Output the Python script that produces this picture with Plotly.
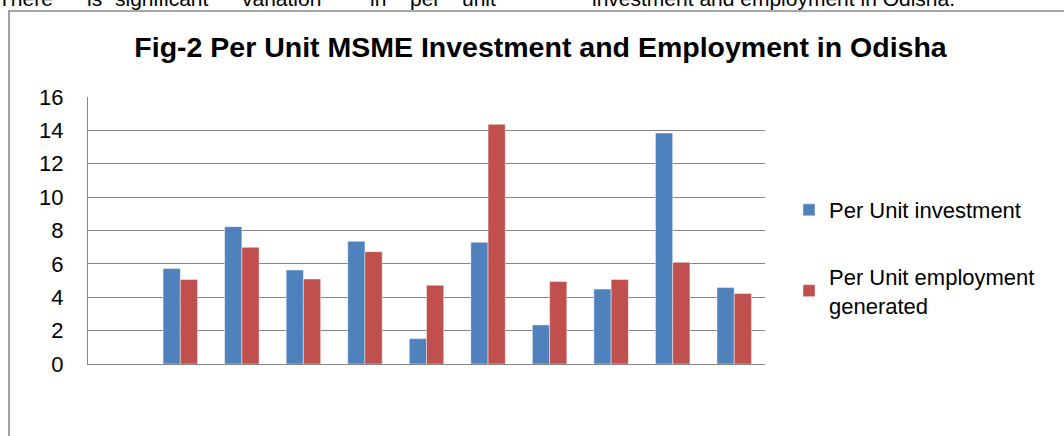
import plotly.graph_objects as go

# ---- data ----
categories = ["1", "2", "3", "4", "5", "6", "7", "8", "9", "10", "11"]
per_unit_investment = [None, 5.73, 8.23, 5.63, 7.35, 1.52, 7.29, 2.34, 4.49, 13.84, 4.58]
per_unit_employment = [None, 5.07, 6.99, 5.09, 6.73, 4.72, 14.36, 4.94, 5.07, 6.09, 4.22]
series_names = ["Per Unit investment", "Per Unit employment<br>generated"]
y_ticks = [0, 2, 4, 6, 8, 10, 12, 14, 16]
title_text = "Fig-2 Per Unit MSME Investment and Employment in Odisha"
body_words_left = ["There", "is", "significant", "variation", "in", "per", "unit"]
body_text_right = "investment and employment in Odisha."

FONT = "Liberation Sans, Arial, sans-serif"
W, H = 1064, 436
ML, MR, MT, MB = 88, 299, 97, 72
PW = W - ML - MR
PH = H - MT - MB


def px_x(x):
    return (x - ML) / PW


def px_y(y):
    return (H - MB - y) / PH


fig = go.Figure()
fig.add_trace(go.Bar(
    x=categories, y=per_unit_investment, name=series_names[0],
    marker=dict(color="#4F81BD", line=dict(color="rgba(255,255,255,0.55)", width=0.8)),
    legendgroup="a",
))
fig.add_trace(go.Bar(
    x=categories, y=per_unit_employment, name=series_names[1],
    marker=dict(color="#C0504D", line=dict(color="rgba(255,255,255,0.55)", width=0.8)),
    legendgroup="b",
))

# body text from the surrounding document (clipped at the top edge, as in the reference)
word_x = [-4, 85, 113, 240, 368, 408, 460]
annotations = []
for wx, wtxt in zip(word_x, body_words_left):
    annotations.append(dict(
        text=wtxt, xref="paper", yref="paper", x=px_x(wx), y=px_y(-1.2),
        xanchor="left", yanchor="middle", showarrow=False,
        font=dict(family=FONT, size=21, color="#000000"),
    ))
annotations.append(dict(
    text=body_text_right, xref="paper", yref="paper", x=px_x(590), y=px_y(-1.2),
    xanchor="left", yanchor="middle", showarrow=False,
    font=dict(family=FONT, size=21, color="#000000"),
))

fig.update_layout(
    width=W, height=H,
    margin=dict(l=ML, r=MR, t=MT, b=MB, pad=0),
    paper_bgcolor="white", plot_bgcolor="white",
    barmode="group", bargap=0.44, bargroupgap=0,
    font=dict(family=FONT, color="#000000"),
    title=dict(
        text="<b>" + title_text + "</b>",
        x=540.5 / W, xanchor="center", xref="container",
        y=1 - 46.6 / H, yanchor="middle", yref="container",
        font=dict(family=FONT, size=28.5, color="#000000"),
    ),
    xaxis=dict(
        type="category", showticklabels=False, ticks="",
        showgrid=False, showline=True, linecolor="#868686", linewidth=1.2,
        zeroline=False, fixedrange=True,
    ),
    yaxis=dict(
        range=[0, 16], tickvals=y_ticks, ticks="",
        showgrid=True, gridcolor="#868686", gridwidth=1.2,
        showline=True, linecolor="#868686", linewidth=1.2,
        zeroline=False, ticklabelstandoff=19,
        tickfont=dict(family=FONT, size=22, color="#000000"),
    ),
    legend=dict(
        x=px_x(789), y=px_y(189), xanchor="left", yanchor="top",
        font=dict(family=FONT, size=22, color="#000000"),
        traceorder="grouped", tracegroupgap=35,
        bgcolor="rgba(0,0,0,0)", borderwidth=0,
    ),
    annotations=annotations,
    shapes=[dict(
        type="rect", xref="paper", yref="paper",
        x0=px_x(9), y0=px_y(11), x1=px_x(1200), y1=px_y(600),
        line=dict(color="#8a8a8a", width=1.6), fillcolor="rgba(0,0,0,0)", layer="below",
    )],
)

fig.write_html(
    "out.html",
    config={"displayModeBar": False},
    post_script="document.body.style.margin='0';document.body.style.overflow='hidden';",
)
